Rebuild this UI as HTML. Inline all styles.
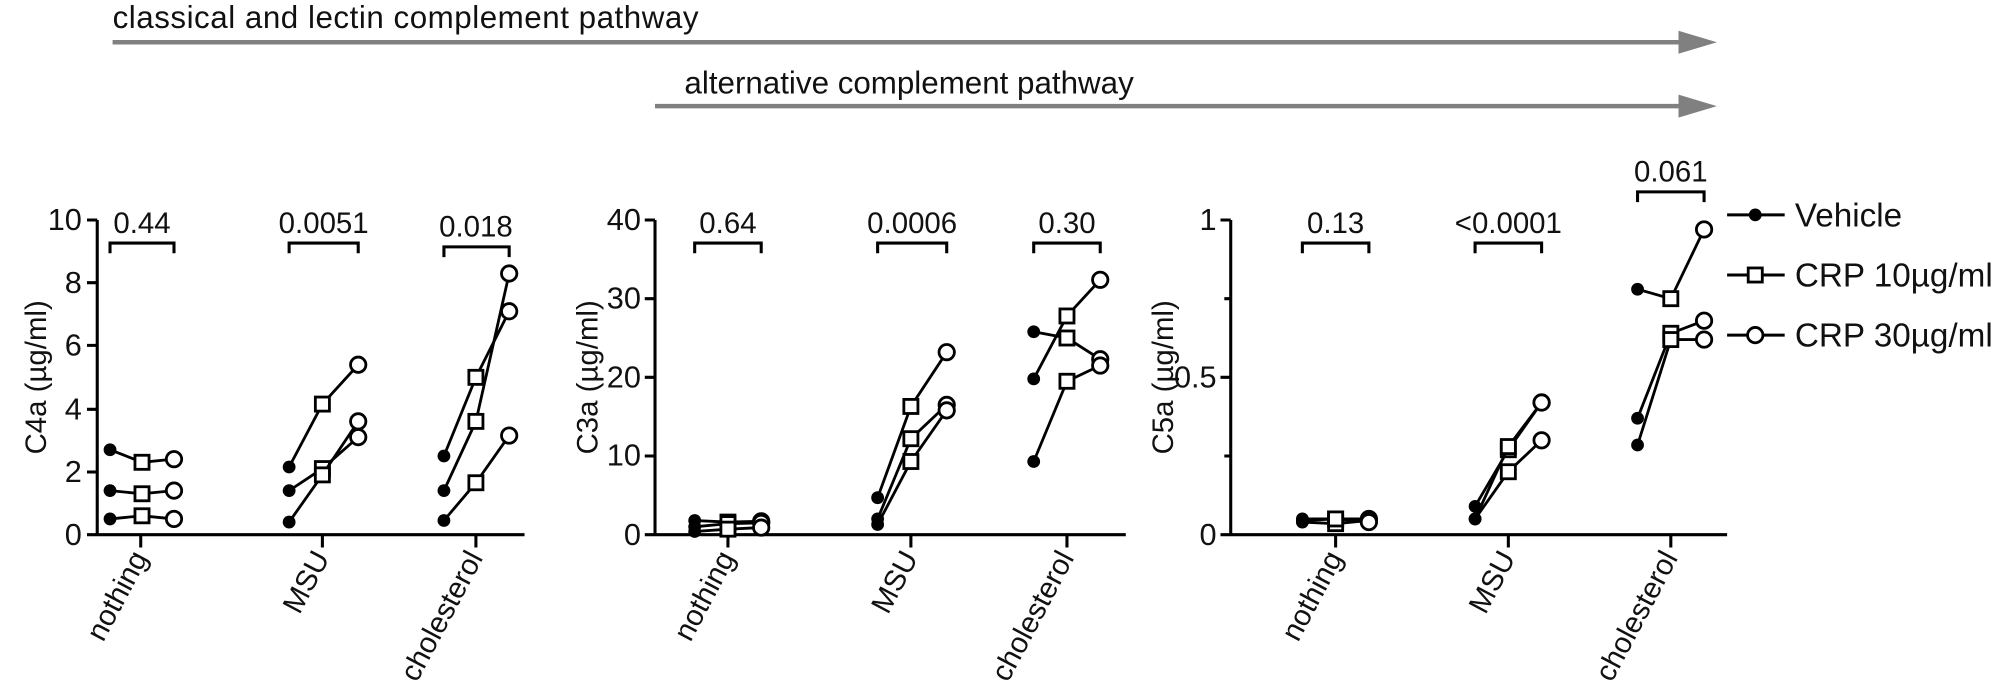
<!DOCTYPE html>
<html><head><meta charset="utf-8"><style>html,body{margin:0;padding:0;background:#fff}svg{display:block}</style></head>
<body>
<svg width="2006" height="692" viewBox="0 0 1568 541" preserveAspectRatio="none" xmlns="http://www.w3.org/2000/svg" font-family="Liberation Sans, Arial, sans-serif">
<g fill="#808080" stroke="#808080">
<line x1="88" y1="33" x2="1318" y2="33" stroke-width="3.5"/>
<polygon points="1312,24 1342,33 1312,42" stroke="none"/>
<line x1="512" y1="83" x2="1318" y2="83" stroke-width="3.5"/>
<polygon points="1312,74 1342,83 1312,92" stroke="none"/>
</g>
<text x="88" y="22" font-size="24.5" fill="#111" textLength="458">classical and lectin complement pathway</text>
<text x="535" y="73" font-size="24.5" fill="#111">alternative complement pathway</text>

<g stroke="#000" stroke-width="2.4" fill="none">
<path d="M76 172V418H410 M68 172H76 M68 221H76 M68 270H76 M68 320H76 M68 369H76 M68 418H76 M110 418V428 M252 418V428 M372 418V428"/>
<path d="M512 172V418H880 M504 172H512 M504 233.5H512 M504 295H512 M504 356.5H512 M504 418H512 M569 418V428 M712 418V428 M834 418V428"/>
<path d="M962 172V418H1350 M954 172H962 M957 233.5H962 M954 295H962 M957 356.5H962 M954 418H962 M1044 418V428 M1179 418V428 M1306 418V428"/>
<path d="M86 198V190H136V198 M226 198V190H280V198 M347 201V193H398V201"/>
<path d="M543 198V190H595V198 M686 198V190H740V198 M808 198V190H860V198"/>
<path d="M1018 198V190H1070V198 M1153 198V190H1205V198 M1280 158V150H1332V158"/>
<path d="M1350 168H1395 M1350 215H1395 M1350 262H1395"/>
</g>

<g font-size="24" fill="#111" text-anchor="end">
<text x="64" y="180">10</text><text x="64" y="229">8</text><text x="64" y="278">6</text><text x="64" y="328">4</text><text x="64" y="377">2</text><text x="64" y="426">0</text>
<text x="501" y="180">40</text><text x="501" y="241">30</text><text x="501" y="303">20</text><text x="501" y="364">10</text><text x="501" y="426">0</text>
<text x="951" y="180">1</text><text x="951" y="303">0.5</text><text x="951" y="426">0</text>
</g>
<g font-size="23" fill="#111" text-anchor="middle">
<text transform="translate(36,295) rotate(-90)">C4a (µg/ml)</text>
<text transform="translate(467,295) rotate(-90)">C3a (µg/ml)</text>
<text transform="translate(917,295) rotate(-90)">C5a (µg/ml)</text>
</g>
<g font-size="23" fill="#111" text-anchor="middle">
<text x="111" y="182">0.44</text><text x="253" y="182">0.0051</text><text x="372" y="185">0.018</text>
<text x="569" y="182">0.64</text><text x="713" y="182">0.0006</text><text x="834" y="182">0.30</text>
<text x="1044" y="182">0.13</text><text x="1179" y="182">&lt;0.0001</text><text x="1306" y="142">0.061</text>
</g>
<g font-size="23" fill="#111" text-anchor="end">
<text transform="translate(116,436) rotate(-62)">nothing</text>
<text transform="translate(258,436) rotate(-62)">MSU</text>
<text transform="translate(378,436) rotate(-62)">cholesterol</text>
<text transform="translate(575,436) rotate(-62)">nothing</text>
<text transform="translate(718,436) rotate(-62)">MSU</text>
<text transform="translate(840,436) rotate(-62)">cholesterol</text>
<text transform="translate(1050,436) rotate(-62)">nothing</text>
<text transform="translate(1185,436) rotate(-62)">MSU</text>
<text transform="translate(1312,436) rotate(-62)">cholesterol</text>
</g>
<g font-size="26" fill="#111">
<text x="1403" y="177">Vehicle</text>
<text x="1403" y="224">CRP 10µg/ml</text>
<text x="1403" y="271">CRP 30µg/ml</text>
</g>

<g id="data" stroke="#000" stroke-width="2.2" fill="none"></g>
<script>
(function(){
var g=document.getElementById('data');var NS='http://www.w3.org/2000/svg';
function P(base,scale){return function(v){return base-v*scale;};}
var panels=[
 {y:P(418,24.6),groups:[[86,111,136,[[2.7,2.3,2.4],[1.4,1.3,1.4],[0.5,0.6,0.5]]],
   [226,252,280,[[2.15,4.15,5.4],[1.4,2.1,3.1],[0.4,1.9,3.6]]],
   [347,372,398,[[2.5,5.0,7.1],[1.4,3.6,8.3],[0.45,1.65,3.15]]]]},
 {y:P(418,6.15),groups:[[543,569,595,[[1.8,1.6,1.7],[1.0,1.4,1.5],[0.4,0.7,0.9]]],
   [686,712,740,[[4.7,16.3,23.2],[2.0,12.2,16.5],[1.3,9.3,15.8]]],
   [808,834,860,[[25.8,25.0,22.3],[19.8,27.8,32.4],[9.3,19.5,21.5]]]]},
 {y:P(418,246),groups:[[1018,1044,1070,[[0.05,0.05,0.05],[0.04,0.035,0.045],[0.045,0.05,0.04]]],
   [1153,1179,1205,[[0.09,0.27,0.42],[0.05,0.28,0.42],[0.05,0.2,0.3]]],
   [1280,1306,1332,[[0.78,0.75,0.97],[0.37,0.64,0.68],[0.285,0.62,0.62]]]]}
];
function el(n,a){var e=document.createElementNS(NS,n);for(var k in a)e.setAttribute(k,a[k]);g.appendChild(e);return e;}
function dot(x,y){el('circle',{cx:x,cy:y,r:5,fill:'#000',stroke:'none'});}
function sq(x,y){el('rect',{x:x-5.5,y:y-5.5,width:11,height:11,fill:'#fff'});}
function ci(x,y){el('circle',{cx:x,cy:y,r:6,fill:'#fff'});}
panels.forEach(function(p){p.groups.forEach(function(gr){gr[3].forEach(function(s){
 var pts=[[gr[0],p.y(s[0])],[gr[1],p.y(s[1])],[gr[2],p.y(s[2])]];
 el('polyline',{points:pts.map(function(q){return q.join(',')}).join(' ')});
 dot(pts[0][0],pts[0][1]);sq(pts[1][0],pts[1][1]);ci(pts[2][0],pts[2][1]);
});});});
dot(1372,168);sq(1372,215);ci(1372,262);
})();
</script>
</svg>
</body></html>
